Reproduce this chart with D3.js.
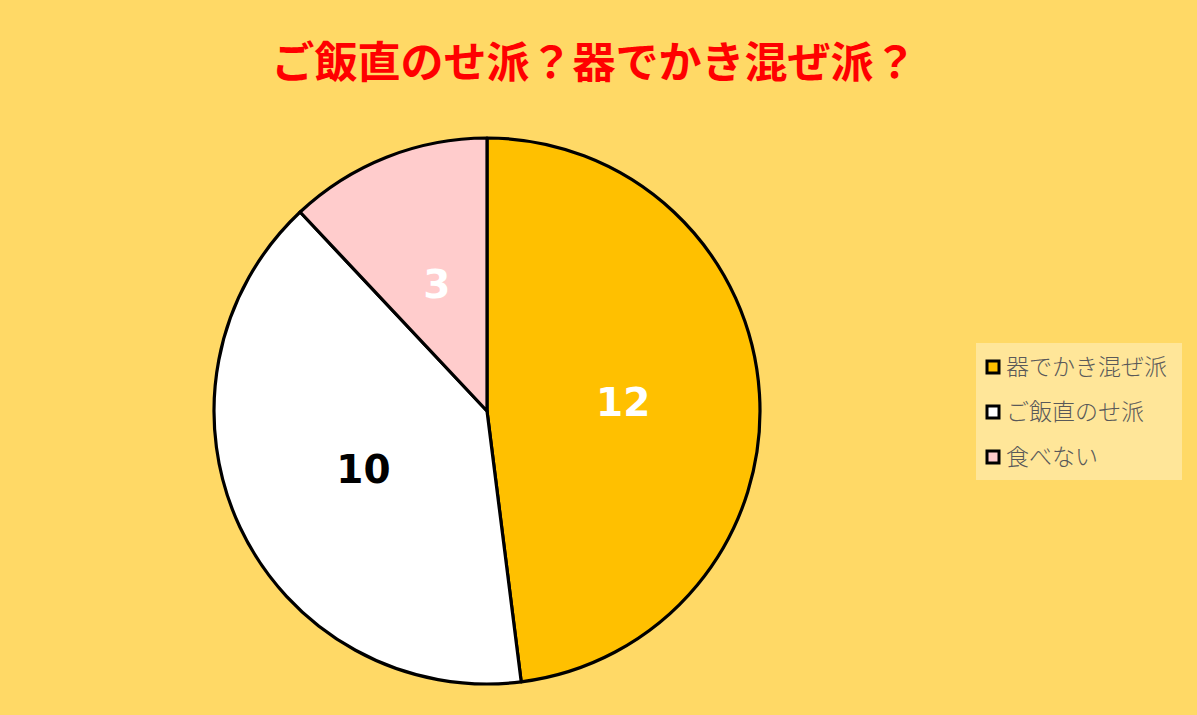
<!DOCTYPE html>
<html><head><meta charset="utf-8">
<script src="https://cdn.jsdelivr.net/npm/d3@7"></script>
<style>html,body{margin:0;padding:0;background:#FFD966;}svg{display:block;}</style>
</head><body>
<svg id="c" width="1197" height="715"></svg>
<script>
const title = "ご飯直のせ派？器でかき混ぜ派？";
const categories = ["器でかき混ぜ派", "ご飯直のせ派", "食べない"];
const values = [12, 10, 3];
const colors = ["#FFC000", "#FFFFFF", "#FFCCCC"];
const labelColors = ["#FFFFFF", "#000000", "#FFFFFF"];

const svg = d3.select("#c");
svg.append("rect").attr("width",1197).attr("height",715).attr("fill","#FFD966");

svg.append("text").attr("x",594).attr("y",78).attr("text-anchor","middle")
  .attr("font-family","'Noto Sans CJK JP', sans-serif").attr("font-weight","bold")
  .attr("font-size",43).attr("fill","#FF0000").text(title);

const cx=487, cy=411, R=273;
const pie = d3.pie().sort(null).value(d=>d);
const arcs = pie(values);
const arc = d3.arc().innerRadius(0).outerRadius(R);
const labelArc = d3.arc().innerRadius(R*0.5).outerRadius(R*0.5);
const g = svg.append("g").attr("transform",`translate(${cx},${cy})`);
g.selectAll("path").data(arcs).join("path")
  .attr("d",arc).attr("fill",(d,i)=>colors[i])
  .attr("stroke","#000").attr("stroke-width",3.2).attr("stroke-linejoin","round");
g.selectAll("text").data(arcs).join("text")
  .attr("transform",d=>`translate(${labelArc.centroid(d)})`)
  .attr("text-anchor","middle").attr("dy","0.36em")
  .attr("font-family","'DejaVu Sans', sans-serif").attr("font-weight","bold")
  .attr("font-size",39).attr("fill",(d,i)=>labelColors[i]).text(d=>d.data);

const lg = svg.append("g");
lg.append("rect").attr("x",976).attr("y",343).attr("width",206).attr("height",137).attr("fill","#FFE699");
const ly = d3.scalePoint().domain(categories).range([367,457]);
const items = lg.selectAll("g").data(categories).join("g")
  .attr("transform",d=>`translate(987,${ly(d)})`);
items.append("rect").attr("x",0).attr("y",-6).attr("width",12).attr("height",12)
  .attr("fill",(d,i)=>colors[i]).attr("stroke","#000").attr("stroke-width",3);
items.append("text").attr("x",19).attr("y",0).attr("dy","0.36em")
  .attr("font-family","'Noto Sans CJK JP', sans-serif").attr("font-weight",300).attr("font-size",23)
  .attr("fill","#595959").text(d=>d);
</script>
</body></html>
